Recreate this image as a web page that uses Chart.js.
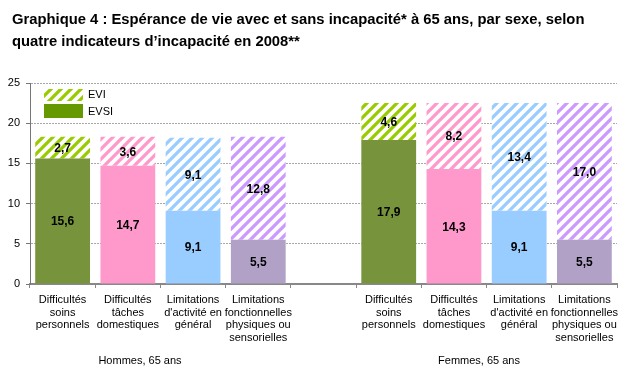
<!DOCTYPE html>
<html>
<head>
<meta charset="utf-8">
<script src="https://cdn.jsdelivr.net/npm/chart.js@4/dist/chart.umd.min.js"></script>
<style>
html,body{margin:0;padding:0;background:#fff;}
#wrap{width:643px;height:381px;position:relative;}
</style>
</head>
<body>
<div id="wrap"><canvas id="c" width="643" height="381"></canvas></div>
<script>
const titleLines = ["Graphique 4 : Espérance de vie avec et sans incapacité* à 65 ans, par sexe, selon",
                    "quatre indicateurs d’incapacité en 2008**"];
const categories = [
  ["Difficultés","soins","personnels"],
  ["Difficultés","tâches","domestiques"],
  ["Limitations","d'activité en","général"],
  ["Limitations","fonctionnelles","physiques ou","sensorielles"],
  "",
  ["Difficultés","soins","personnels"],
  ["Difficultés","tâches","domestiques"],
  ["Limitations","d'activité en","général"],
  ["Limitations","fonctionnelles","physiques ou","sensorielles"]
];
const groupLabels = ["Hommes, 65 ans", "Femmes, 65 ans"];
const evsi = [15.6, 14.7, 9.1, 5.5, null, 17.9, 14.3, 9.1, 5.5];
const evi  = [2.7, 3.6, 9.1, 12.8, null, 4.6, 8.2, 13.4, 17.0];
const yTicks = [0, 5, 10, 15, 20, 25];

const solidColors = ["#77933c","#ff99cc","#99ccff","#b2a1c7"];
const hatchColors = ["#99cc00","#ff99cc","#99ccff","#cc99ff"];

function makeHatch(color){
  const s = 10;
  const cv = document.createElement('canvas');
  cv.width = s; cv.height = s;
  const g = cv.getContext('2d');
  g.fillStyle = '#fff'; g.fillRect(0,0,s,s);
  g.strokeStyle = color; g.lineWidth = 3.3; g.lineCap = 'square';
  g.beginPath();
  g.moveTo(-s, s); g.lineTo(s, -s);
  g.moveTo(0, s); g.lineTo(s, 0);
  g.moveTo(0, 2*s); g.lineTo(2*s, 0);
  g.stroke();
  return g.createPattern(cv, 'repeat');
}
const hatchPatterns = hatchColors.map(makeHatch);
const idx = [0,1,2,3,0,0,1,2,3];
const solidBg = idx.map(i => solidColors[i]);
const hatchBg = idx.map(i => hatchPatterns[i]);

const FONT = '"Liberation Sans", Arial, sans-serif';
const fmt = v => v.toFixed(1).replace('.', ',');

const drawPlugin = {
  id: 'extras',
  afterDatasetsDraw(chart){
    const ctx = chart.ctx;
    ctx.save();
    ctx.fillStyle = '#000';
    ctx.font = 'bold 12px ' + FONT;
    ctx.textAlign = 'center';
    ctx.textBaseline = 'middle';
    chart.data.datasets.forEach((ds, di) => {
      const meta = chart.getDatasetMeta(di);
      meta.data.forEach((bar, i) => {
        const v = ds.data[i];
        if (v == null) return;
        const p = bar.getProps(['x','y','base'], true);
        ctx.fillText(fmt(v), p.x, (p.y + p.base) / 2 + 1);
      });
    });
    ctx.restore();
  },
  afterDraw(chart){
    const ctx = chart.ctx;
    ctx.save();
    // title
    ctx.fillStyle = '#000';
    ctx.font = 'bold 14.8px ' + FONT;
    ctx.textAlign = 'left';
    ctx.textBaseline = 'alphabetic';
    ctx.fillText(titleLines[0], 12, 24);
    ctx.fillText(titleLines[1], 12, 46);
    // legend
    ctx.fillStyle = hatchPatterns[0];
    ctx.fillRect(44, 89, 39, 12);
    ctx.fillStyle = '#669900';
    ctx.fillRect(44, 104, 39, 14);
    ctx.fillStyle = '#000';
    ctx.font = '11px ' + FONT;
    ctx.textBaseline = 'middle';
    ctx.fillText('EVI', 88, 95);
    ctx.fillText('EVSI', 88, 112);
    // group labels
    ctx.textAlign = 'center';
    ctx.fillText(groupLabels[0], 140, 361);
    ctx.fillText(groupLabels[1], 479, 361);
    ctx.restore();
  }
};

new Chart(document.getElementById('c'), {
  type: 'bar',
  data: {
    labels: categories,
    datasets: [
      { label: 'EVSI', data: evsi, backgroundColor: solidBg, borderWidth: 0 },
      { label: 'EVI', data: evi, backgroundColor: hatchBg, borderWidth: 0 }
    ]
  },
  options: {
    responsive: false,
    animation: false,
    devicePixelRatio: 1,
    layout: { padding: { left: 0, right: 26, top: 83, bottom: 0 } },
    plugins: { legend: { display: false }, tooltip: { enabled: false }, title: { display: false } },
    datasets: { bar: { barPercentage: 0.84, categoryPercentage: 1.0 } },
    scales: {
      x: {
        stacked: true,
        afterFit(s){ s.height = 97; },
        border: { display: true, color: '#888', width: 2 },
        grid: { display: true, offset: true, drawOnChartArea: false, drawTicks: true, tickLength: 4, color: '#888' },
        ticks: { color: '#000', font: { family: FONT, size: 11, lineHeight: 1.18 }, padding: 5, maxRotation: 0, autoSkip: false }
      },
      y: {
        stacked: true,
        min: 0, max: 25,
        afterFit(s){ s.width = 30; },
        afterBuildTicks(s){ s.ticks = yTicks.map(v => ({ value: v })); },
        grid: { color: '#a8a8a8', tickLength: 4, tickColor: '#777', lineWidth: 1, tickBorderDash: [] },
        border: { display: true, color: '#777', width: 1, dash: [2, 1] },
        ticks: { color: '#000', font: { family: FONT, size: 11 }, padding: 6 }
      }
    }
  },
  plugins: [drawPlugin]
});
</script>
</body>
</html>
